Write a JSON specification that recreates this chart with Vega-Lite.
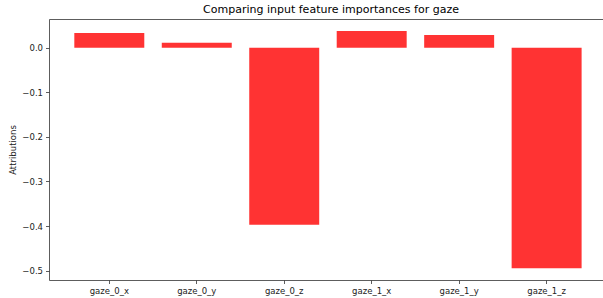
{
  "$schema": "https://vega.github.io/schema/vega-lite/v6.json",
  "width": 554,
  "height": 261,
  "autosize": {"type": "none"},
  "padding": {"left": 49, "top": 19, "right": 0, "bottom": 18},
  "title": {
    "text": "Comparing input feature importances for gaze",
    "font": "DejaVu Sans",
    "fontSize": 11,
    "fontWeight": "normal",
    "color": "#000000",
    "anchor": "middle",
    "offset": 4,
    "dx": 5
  },
  "config": {
    "view": {"stroke": null},
    "axis": {
      "labelFont": "DejaVu Sans",
      "titleFont": "DejaVu Sans",
      "labelFontSize": 8.5,
      "titleFontSize": 8.5,
      "titleFontWeight": "normal",
      "labelColor": "#222222",
      "titleColor": "#222222",
      "domainColor": "#333333",
      "domainWidth": 0.8,
      "tickColor": "#333333",
      "tickWidth": 0.8,
      "tickSize": 3.5,
      "grid": false
    }
  },
  "data": {
    "values": [
      {"feature": "gaze_0_x", "attribution": 0.033},
      {"feature": "gaze_0_y", "attribution": 0.0112},
      {"feature": "gaze_0_z", "attribution": -0.397},
      {"feature": "gaze_1_x", "attribution": 0.0374},
      {"feature": "gaze_1_y", "attribution": 0.0285},
      {"feature": "gaze_1_z", "attribution": -0.4946}
    ]
  },
  "encoding": {
    "y": {
      "field": "attribution",
      "type": "quantitative",
      "scale": {"domain": [-0.521, 0.0644], "nice": false, "zero": false},
      "axis": {
        "title": "Attributions",
        "values": [0, -0.1, -0.2, -0.3, -0.4, -0.5],
        "format": ".1f",
        "labelPadding": 3,
        "titlePadding": 4
      }
    }
  },
  "layer": [
    {
      "mark": {"type": "bar", "color": "#ff3333"},
      "encoding": {
        "x": {
          "field": "feature",
          "type": "nominal",
          "sort": null,
          "scale": {"paddingInner": 0.2, "paddingOuter": 0.267, "align": 0.542},
          "axis": {"title": null, "labelAngle": 0, "labelPadding": 3, "orient": "bottom"}
        }
      }
    },
    {
      "mark": {"type": "bar", "opacity": 0},
      "encoding": {
        "x": {
          "field": "feature",
          "type": "nominal",
          "sort": null,
          "axis": {"orient": "top", "title": null, "labels": false, "ticks": false}
        }
      }
    }
  ],
  "resolve": {"axis": {"x": "independent"}}
}
